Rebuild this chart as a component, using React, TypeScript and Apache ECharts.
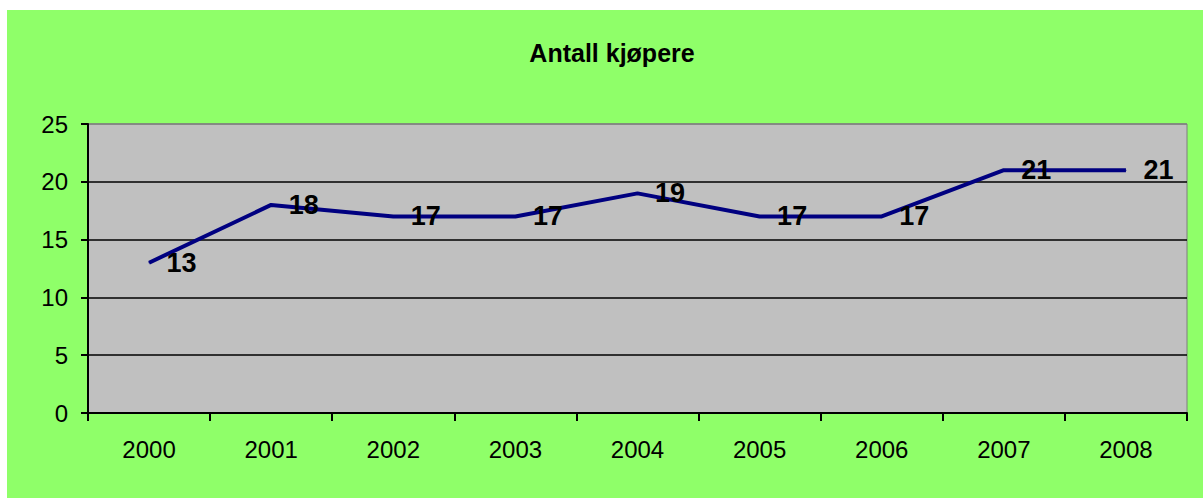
import React, { useEffect, useRef } from "react";
import * as echarts from "echarts";

const years = ["2000", "2001", "2002", "2003", "2004", "2005", "2006", "2007", "2008"];
const buyers = [13, 18, 17, 17, 19, 17, 17, 21, 21];
const yTicks = { min: 0, max: 25, interval: 5 };
const titleText = "Antall kjøpere";

const FONT = "'Liberation Sans', Arial, Helvetica, sans-serif";

export default function App() {
  const ref = useRef<HTMLDivElement>(null);
  useEffect(() => {
    if (!ref.current) return;
    const chart = echarts.init(ref.current, undefined, { renderer: "svg" });
    chart.setOption({
      animation: false,
      backgroundColor: "#8fff69",
      title: {
        text: titleText,
        left: 600,
        top: 25,
        textAlign: "center",
        textStyle: { fontFamily: FONT, fontWeight: "bold", fontSize: 25, color: "#000" },
      },
      grid: {
        left: 81,
        top: 114,
        right: 16,
        bottom: 85,
        show: true,
        backgroundColor: "#c0c0c0",
        borderColor: "#7f7f7f",
        borderWidth: 1,
        containLabel: false,
      },
      xAxis: {
        type: "category",
        data: years,
        boundaryGap: true,
        axisLine: { show: true, lineStyle: { color: "#000", width: 2 } },
        axisTick: { show: true, length: 8, interval: 0, lineStyle: { color: "#000", width: 2 } },
        axisLabel: { interval: 0, margin: 24, fontFamily: FONT, fontSize: 24, color: "#000" },
        splitLine: { show: false },
      },
      yAxis: {
        type: "value",
        min: yTicks.min,
        max: yTicks.max,
        interval: yTicks.interval,
        axisLine: { show: true, lineStyle: { color: "#000", width: 2 } },
        axisTick: { show: true, length: 7, lineStyle: { color: "#000", width: 2 } },
        axisLabel: { margin: 20, fontFamily: FONT, fontSize: 24, color: "#000" },
        splitLine: {
          show: true,
          lineStyle: { color: ["#000", "#000", "#000", "#000", "#000", "#7f7f7f"], width: 1.5 },
        },
      },
      series: [
        {
          type: "line",
          data: buyers,
          showSymbol: true,
          symbol: "circle",
          symbolSize: 1,
          lineStyle: { color: "#000080", width: 4 },
          itemStyle: { color: "#000080" },
          label: {
            show: true,
            position: "right",
            distance: 17,
            fontFamily: FONT,
            fontWeight: "bold",
            fontSize: 27,
            color: "#000",
          },
        },
      ],
    });
    return () => chart.dispose();
  }, []);
  return (
    <div style={{ position: "fixed", left: 0, top: 0, width: 1203, height: 498, background: "#fff" }}>
      <div ref={ref} style={{ position: "absolute", left: 7, top: 10, width: 1196, height: 488 }} />
    </div>
  );
}
